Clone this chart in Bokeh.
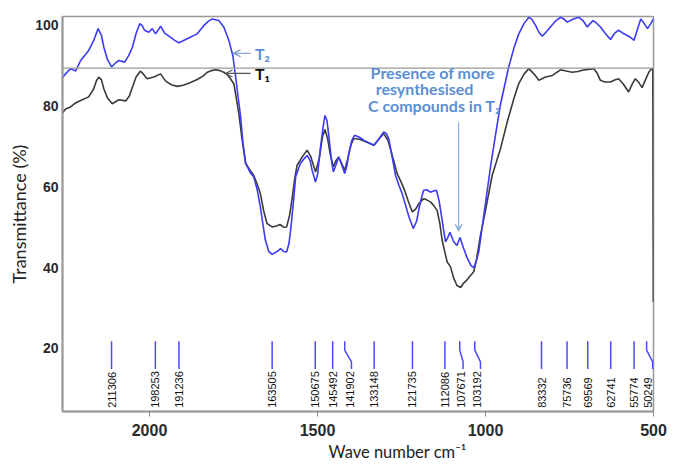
import math
from bokeh.plotting import figure
from bokeh.models import Range1d, Label, Arrow, OpenHead, VeeHead, Span, FixedTicker, Title
from bokeh.core.properties import value
from bokeh.embed import file_html
from bokeh.resources import INLINE

# ---------------- data ----------------
t2_wn = [2259, 2250, 2235, 2220, 2205, 2181, 2165, 2153, 2143, 2136, 2125, 2113, 2100, 2091, 2074, 2062,
         2051, 2040, 2029, 2022, 2015, 2002, 1992, 1982, 1967, 1955, 1938, 1925, 1913, 1900, 1888, 1858,
         1838, 1825, 1813, 1794, 1779, 1764, 1752, 1744, 1739, 1729, 1722, 1714, 1700, 1690, 1680, 1670,
         1662, 1655, 1645, 1635, 1620, 1610, 1600, 1592, 1585, 1580, 1572, 1565, 1551, 1540, 1531, 1522,
         1516, 1506, 1500, 1491, 1483, 1478, 1472, 1466, 1459, 1453, 1445, 1437, 1428, 1419, 1412, 1407,
         1398, 1390, 1375, 1362, 1345, 1332, 1318, 1303, 1295, 1288, 1278, 1268, 1258, 1248, 1238, 1228,
         1215, 1205, 1198, 1190, 1184, 1175, 1164, 1155, 1146, 1138, 1132, 1125, 1119, 1112, 1106, 1095,
         1085, 1076, 1066, 1055, 1043, 1035, 1028, 1020, 1005, 985, 970, 955, 931, 915, 901, 885,
         871, 862, 851, 841, 831, 820, 807, 790, 777, 767, 757, 740, 722, 710, 697, 688,
         680, 670, 658, 645, 628, 616, 604, 590, 578, 568, 558, 548, 538, 528, 518, 510, 500]
t2_tr = [87.0, 88.0, 89.3, 88.7, 91.3, 93.8, 96.5, 99.2, 97.5, 94.6, 91.5, 89.7, 90.8, 91.3, 90.9, 92.5,
         94.6, 98.0, 100.4, 100.0, 98.8, 98.3, 99.2, 97.9, 99.8, 98.1, 97.1, 96.3, 95.7, 96.2, 96.7, 97.9,
         100.0, 101.0, 101.6, 101.2, 99.6, 96.3, 92.5, 87.5, 84.0, 77.5, 71.0, 66.0, 63.5, 62.5, 59.5, 55.0,
         50.5, 46.8, 44.0, 43.3, 44.0, 44.7, 44.0, 43.9, 46.0, 49.3, 56.0, 62.5, 65.8, 67.0, 67.8, 66.5,
         64.1, 61.2, 63.0, 69.9, 75.0, 77.7, 76.5, 72.4, 67.0, 63.7, 65.5, 67.4, 65.5, 63.3, 65.5, 68.2,
         71.5, 72.8, 72.3, 71.5, 70.8, 70.3, 71.8, 73.6, 73.2, 71.9, 67.5, 62.9, 60.5, 58.3, 55.5, 52.6,
         49.7, 51.5, 54.6, 57.5, 59.2, 59.3, 58.7, 59.0, 59.2, 56.5, 53.4, 49.5, 46.4, 47.5, 48.8, 46.5,
         45.5, 47.5, 45.0, 42.5, 40.5, 40.0, 41.5, 44.0, 53.0, 65.0, 73.0, 80.6, 89.7, 94.5, 97.9, 100.5,
         102.0, 101.5, 100.0, 98.3, 97.3, 98.3, 99.6, 101.2, 102.0, 101.6, 100.8, 101.5, 102.0, 101.2, 99.6, 100.5,
         101.2, 100.6, 99.6, 98.2, 96.5, 98.0, 98.8, 98.0, 97.5, 97.0, 96.3, 99.0, 101.6, 100.5, 99.2, 100.2, 101.6]

t1_wn = [2262, 2250, 2235, 2220, 2205, 2181, 2166, 2158, 2151, 2143, 2136, 2125, 2111, 2091, 2071, 2060,
         2051, 2040, 2027, 2017, 2007, 1987, 1967, 1952, 1935, 1918, 1900, 1883, 1858, 1840, 1828, 1815,
         1804, 1790, 1779, 1769, 1759, 1749, 1744, 1734, 1725, 1714, 1700, 1690, 1680, 1670, 1660, 1650,
         1635, 1620, 1612, 1600, 1592, 1583, 1575, 1568, 1561, 1545, 1531, 1520, 1506, 1495, 1485, 1478,
         1470, 1462, 1453, 1445, 1437, 1428, 1419, 1410, 1400, 1392, 1375, 1360, 1345, 1332, 1318, 1303,
         1290, 1275, 1263, 1250, 1241, 1230, 1218, 1208, 1198, 1184, 1175, 1164, 1155, 1144, 1136, 1129,
         1120, 1114, 1104, 1095, 1085, 1074, 1065, 1055, 1045, 1035, 1027, 1015, 1000, 980, 955, 934,
         915, 901, 885, 871, 856, 841, 821, 801, 777, 760, 742, 725, 712, 695, 678, 668,
         658, 645, 628, 616, 604, 590, 574, 563, 554, 545, 534, 524, 514, 506, 502, 500.5]
t1_tr = [78.0, 79.3, 79.8, 80.8, 81.4, 82.3, 84.3, 86.3, 87.2, 86.5, 84.3, 82.0, 80.6, 81.6, 81.3, 82.5,
         84.7, 87.2, 88.7, 87.8, 86.8, 87.2, 88.0, 86.2, 85.3, 84.9, 85.2, 85.7, 86.6, 87.5, 88.4, 88.8,
         89.0, 88.8, 88.4, 87.8, 86.8, 85.5, 83.1, 78.1, 72.0, 65.8, 64.0, 62.9, 60.8, 58.3, 54.0, 50.9,
         50.1, 50.4, 50.7, 50.0, 50.1, 53.0, 57.5, 62.0, 65.3, 67.5, 69.1, 67.5, 63.7, 67.0, 72.5, 74.2,
         72.0, 68.0, 65.0, 66.5, 67.4, 65.8, 64.1, 67.0, 70.5, 72.0, 71.8, 71.3, 70.8, 70.3, 71.8, 73.2,
         71.5, 67.0, 63.3, 61.0, 59.2, 56.5, 53.8, 54.5, 55.9, 57.1, 56.8, 56.3, 55.5, 54.2, 51.0, 46.8,
         43.5, 41.4, 40.2, 37.5, 35.6, 35.1, 36.2, 37.0, 38.0, 39.0, 42.0, 48.0, 54.2, 62.9, 69.6, 76.5,
         82.0, 85.6, 88.0, 89.3, 88.0, 86.4, 87.2, 87.6, 89.0, 88.7, 88.4, 88.6, 88.9, 89.1, 89.3, 88.2,
         86.4, 86.0, 86.0, 86.5, 86.8, 85.5, 83.5, 85.5, 86.8, 86.0, 84.6, 86.5, 88.4, 89.3, 89.0, 31.5]

peak_wn = [2113.06, 1982.53, 1912.36, 1635.05, 1506.75, 1454.92, 1419.02, 1331.48, 1217.35,
           1120.86, 1076.71, 1031.92, 833.32, 757.36, 695.69, 627.41, 557.74, 502.49]
peak_labels = ["211306", "198253", "191236", "163505", "150675", "145492", "141902", "133148", "121735",
               "112086", "107671", "103192", "83332", "75736", "69569", "62741", "55774", "50249"]
x_ticks = [2000, 1500, 1000, 500]
y_ticks = [20, 40, 60, 80, 100]
ref_level = 89.4

# ---------------- layout helpers (offsets in data units) ----------------
n = len(peak_wn)
top_off = [0] * n
bot_off = [0] * n
lab_off = [0] * n
bot_off[6], lab_off[6] = -20, -15     # 1419
bot_off[10], lab_off[10] = -10, -3    # 1076
bot_off[11], lab_off[11] = -17, -7    # 1031
top_off[17], lab_off[17] = 18, 13     # 502

BLUE = "#3b3bf5"
DARK = "#3a3a3a"
NOTE = "#5b8fd4"

p = figure(width=667, height=467, output_backend="svg", toolbar_location=None,
           x_range=Range1d(2259, 500), y_range=Range1d(4.4, 102.2),
           min_border_left=62, min_border_right=14, min_border_top=16, min_border_bottom=56)
p.background_fill_color = "white"
p.border_fill_color = "white"
p.outline_line_color = "#999999"
p.outline_line_width = 1.5
p.xgrid.visible = False
p.ygrid.visible = False

p.xaxis.ticker = FixedTicker(ticks=x_ticks)
p.yaxis.ticker = FixedTicker(ticks=y_ticks)
for ax in (p.xaxis, p.yaxis):
    ax.axis_line_color = "#999999"
    ax.axis_line_width = 2
    ax.major_tick_line_color = "#888888"
    ax.minor_tick_line_color = None
    ax.major_label_text_font = "Liberation Sans"
    ax.major_label_text_font_style = "bold"
    ax.major_label_text_color = "#2a2a2a"
p.xaxis.major_label_text_font_size = "16px"
p.yaxis.major_label_text_font_size = "14px"
p.xaxis.major_tick_out = 5
p.xaxis.major_tick_in = 0
p.xaxis.major_label_standoff = 7
p.yaxis.major_tick_out = 0
p.yaxis.major_tick_in = 0
p.yaxis.major_label_standoff = 4

# axis titles as side-panel titles
p.add_layout(Title(text="Wave number cm⁻¹", align="left", offset=266, standoff=3,
                   text_font="Lato", text_font_size="16.5px", text_font_style="normal",
                   text_color="#222222"), "below")
p.add_layout(Title(text="Transmittance (%)", align="center", offset=0, standoff=6,
                   text_font="Lato", text_font_size="18px", text_font_style="normal",
                   text_color="#222222"), "left")

p.add_layout(Span(location=ref_level, dimension="width", line_color="#999999", line_width=1.2))

p.line(t1_wn, t1_tr, line_color=DARK, line_width=1.6)
p.line(t2_wn, t2_tr, line_color=BLUE, line_width=1.6)

xs, ys = [], []
for w, a, b in zip(peak_wn, top_off, bot_off):
    if a == 0 and b == 0:
        xs.append([w, w]); ys.append([21.8, 14.9])
    else:
        xs.append([w + a, w + a, w + b, w + b]); ys.append([21.8, 19.6, 16.7, 14.9])
p.multi_line(xs, ys, line_color="#4a4aff", line_width=1.5)

lab_x = [w + o for w, o in zip(peak_wn, lab_off)]
p.text(x=lab_x, y=[5.3] * n, text=peak_labels, angle=math.pi / 2,
       text_align="left", text_baseline="middle", text_font=value("Liberation Sans"),
       text_font_size="11px", text_color="#111111")

p.add_layout(Arrow(end=OpenHead(size=7, line_color="#6c8ebf", line_width=1.2),
                   x_start=1699, y_start=93.1, x_end=1750, y_end=93.1,
                   line_color="#6c8ebf", line_width=1.2))
p.add_layout(Arrow(end=OpenHead(size=7, line_color="#555555", line_width=1.2),
                   x_start=1699, y_start=88.1, x_end=1774, y_end=88.1,
                   line_color="#555555", line_width=1.2))
p.add_layout(Label(x=1686, y=93.1, text="T₂", text_color=NOTE, text_font="Lato",
                   text_font_size="16px", text_font_style="bold", text_baseline="middle"))
p.add_layout(Label(x=1686, y=88.0, text="T₁", text_color="#111111", text_font="Lato",
                   text_font_size="16px", text_font_style="bold", text_baseline="middle"))

for tx, xx, yy in [("Presence of more", 1342, 88.3), ("resynthesised", 1327, 84.3),
                   ("C compounds in T₂", 1350, 80.2)]:
    p.add_layout(Label(x=xx, y=yy, text=tx, text_color=NOTE, text_font="Lato",
                       text_font_size="16px", text_font_style="bold", text_baseline="middle"))
p.add_layout(Arrow(end=VeeHead(size=7, fill_color="#8fb3de", line_color="#8fb3de"),
                   x_start=1080, y_start=76.0, x_end=1080, y_end=49.0,
                   line_color="#8fb3de", line_width=1.2))

open("out.html", "w").write(file_html(p, INLINE))
